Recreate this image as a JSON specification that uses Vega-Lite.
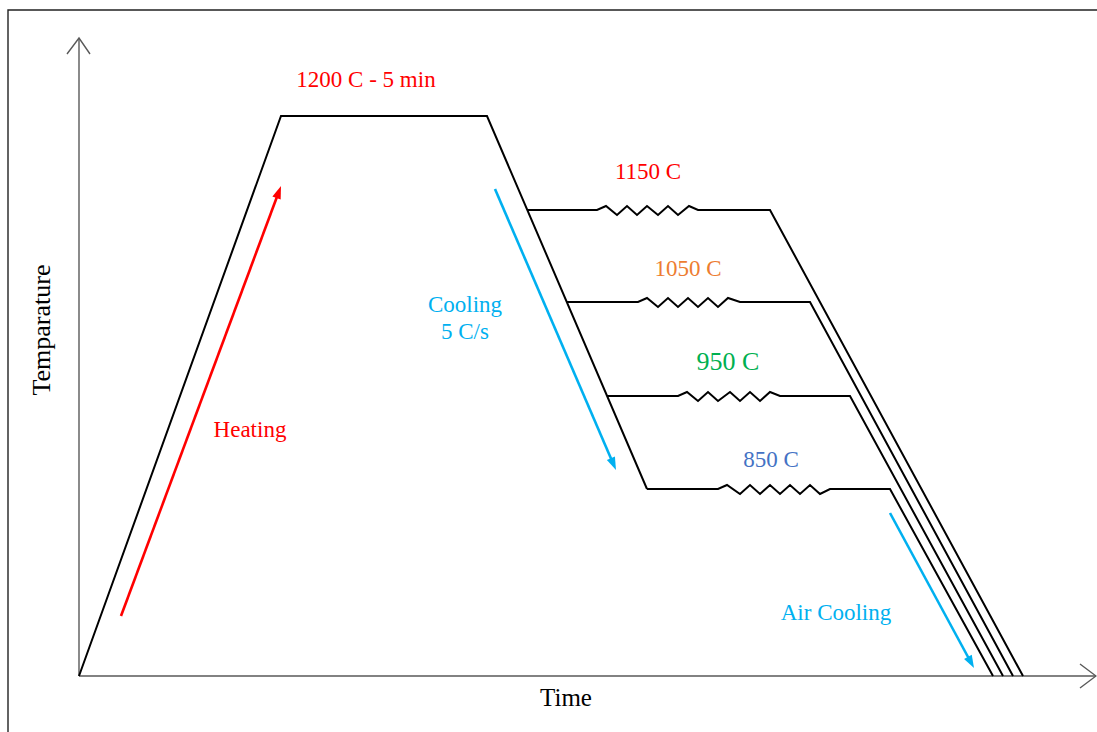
{
  "$schema": "https://vega.github.io/schema/vega-lite/v6.json",
  "autosize": {"type": "none"},
  "width": 1097,
  "height": 732,
  "padding": 0,
  "background": "white",
  "config": {"view": {"stroke": null}},
  "datasets": {
    "paths": [
      {"path": "frame", "key": "frame", "seq": 1, "t": 1018, "T": 666},
      {"path": "frame", "key": "frame", "seq": 2, "t": -71, "T": 666},
      {"path": "frame", "key": "frame", "seq": 3, "t": -71, "T": -56},
      {"path": "yaxis", "key": "axis", "seq": 1, "t": 0, "T": 0},
      {"path": "yaxis", "key": "axis", "seq": 2, "t": 0, "T": 638},
      {"path": "yhead", "key": "axis", "seq": 1, "t": -12, "T": 622},
      {"path": "yhead", "key": "axis", "seq": 2, "t": 0, "T": 638},
      {"path": "yhead", "key": "axis", "seq": 3, "t": 11, "T": 622},
      {"path": "xaxis", "key": "axis", "seq": 1, "t": 0, "T": 0},
      {"path": "xaxis", "key": "axis", "seq": 2, "t": 1017, "T": 0},
      {"path": "xhead", "key": "axis", "seq": 1, "t": 1001, "T": 12},
      {"path": "xhead", "key": "axis", "seq": 2, "t": 1017, "T": 0},
      {"path": "xhead", "key": "axis", "seq": 3, "t": 1001, "T": -12},
      {"path": "main", "key": "profile", "seq": 1, "t": 0, "T": 0},
      {"path": "main", "key": "profile", "seq": 2, "t": 202, "T": 560},
      {"path": "main", "key": "profile", "seq": 3, "t": 408, "T": 560},
      {"path": "main", "key": "profile", "seq": 4, "t": 568, "T": 187},
      {"path": "p1150", "key": "profile", "seq": 1, "t": 448, "T": 466},
      {"path": "p1150", "key": "profile", "seq": 2, "t": 518, "T": 466},
      {"path": "p1150", "key": "profile", "seq": 3, "t": 527, "T": 470},
      {"path": "p1150", "key": "profile", "seq": 4, "t": 538, "T": 461},
      {"path": "p1150", "key": "profile", "seq": 5, "t": 548, "T": 470},
      {"path": "p1150", "key": "profile", "seq": 6, "t": 558, "T": 461},
      {"path": "p1150", "key": "profile", "seq": 7, "t": 568, "T": 470},
      {"path": "p1150", "key": "profile", "seq": 8, "t": 579, "T": 461},
      {"path": "p1150", "key": "profile", "seq": 9, "t": 589, "T": 470},
      {"path": "p1150", "key": "profile", "seq": 10, "t": 599, "T": 461},
      {"path": "p1150", "key": "profile", "seq": 11, "t": 610, "T": 470},
      {"path": "p1150", "key": "profile", "seq": 12, "t": 619, "T": 466},
      {"path": "p1150", "key": "profile", "seq": 13, "t": 691, "T": 466},
      {"path": "p1150", "key": "profile", "seq": 14, "t": 944, "T": 0},
      {"path": "p1050", "key": "profile", "seq": 1, "t": 488, "T": 374},
      {"path": "p1050", "key": "profile", "seq": 2, "t": 559, "T": 374},
      {"path": "p1050", "key": "profile", "seq": 3, "t": 568, "T": 378},
      {"path": "p1050", "key": "profile", "seq": 4, "t": 579, "T": 369},
      {"path": "p1050", "key": "profile", "seq": 5, "t": 589, "T": 378},
      {"path": "p1050", "key": "profile", "seq": 6, "t": 599, "T": 369},
      {"path": "p1050", "key": "profile", "seq": 7, "t": 609, "T": 378},
      {"path": "p1050", "key": "profile", "seq": 8, "t": 619, "T": 369},
      {"path": "p1050", "key": "profile", "seq": 9, "t": 629, "T": 378},
      {"path": "p1050", "key": "profile", "seq": 10, "t": 639, "T": 369},
      {"path": "p1050", "key": "profile", "seq": 11, "t": 649, "T": 378},
      {"path": "p1050", "key": "profile", "seq": 12, "t": 661, "T": 374},
      {"path": "p1050", "key": "profile", "seq": 13, "t": 731, "T": 374},
      {"path": "p1050", "key": "profile", "seq": 14, "t": 934, "T": 0},
      {"path": "p950", "key": "profile", "seq": 1, "t": 528, "T": 280},
      {"path": "p950", "key": "profile", "seq": 2, "t": 599, "T": 280},
      {"path": "p950", "key": "profile", "seq": 3, "t": 608, "T": 284},
      {"path": "p950", "key": "profile", "seq": 4, "t": 619, "T": 275},
      {"path": "p950", "key": "profile", "seq": 5, "t": 629, "T": 284},
      {"path": "p950", "key": "profile", "seq": 6, "t": 639, "T": 275},
      {"path": "p950", "key": "profile", "seq": 7, "t": 651, "T": 284},
      {"path": "p950", "key": "profile", "seq": 8, "t": 661, "T": 275},
      {"path": "p950", "key": "profile", "seq": 9, "t": 671, "T": 284},
      {"path": "p950", "key": "profile", "seq": 10, "t": 681, "T": 275},
      {"path": "p950", "key": "profile", "seq": 11, "t": 691, "T": 284},
      {"path": "p950", "key": "profile", "seq": 12, "t": 701, "T": 280},
      {"path": "p950", "key": "profile", "seq": 13, "t": 771, "T": 280},
      {"path": "p950", "key": "profile", "seq": 14, "t": 924, "T": 0},
      {"path": "p850", "key": "profile", "seq": 1, "t": 568, "T": 187},
      {"path": "p850", "key": "profile", "seq": 2, "t": 639, "T": 187},
      {"path": "p850", "key": "profile", "seq": 3, "t": 648, "T": 191},
      {"path": "p850", "key": "profile", "seq": 4, "t": 661, "T": 182},
      {"path": "p850", "key": "profile", "seq": 5, "t": 671, "T": 191},
      {"path": "p850", "key": "profile", "seq": 6, "t": 681, "T": 182},
      {"path": "p850", "key": "profile", "seq": 7, "t": 691, "T": 191},
      {"path": "p850", "key": "profile", "seq": 8, "t": 701, "T": 182},
      {"path": "p850", "key": "profile", "seq": 9, "t": 711, "T": 191},
      {"path": "p850", "key": "profile", "seq": 10, "t": 721, "T": 182},
      {"path": "p850", "key": "profile", "seq": 11, "t": 731, "T": 191},
      {"path": "p850", "key": "profile", "seq": 12, "t": 741, "T": 182},
      {"path": "p850", "key": "profile", "seq": 13, "t": 751, "T": 187},
      {"path": "p850", "key": "profile", "seq": 14, "t": 811, "T": 187},
      {"path": "p850", "key": "profile", "seq": 15, "t": 914, "T": 0}
    ],
    "arrows": [
      {"key": "Heating", "t": 42, "T": 60, "t2": 199.2, "T2": 482.5},
      {"key": "Cooling", "t": 416, "T": 487, "t2": 533.8, "T2": 213.3},
      {"key": "Air Cooling", "t": 811, "T": 163, "t2": 891.2, "T2": 15}
    ],
    "labels": [
      {"text": "1200 C - 5 min", "key": "1200", "t": 287, "T": 589},
      {"text": "1150 C", "key": "1150", "t": 569, "T": 497},
      {"text": "1050 C", "key": "1050", "t": 609, "T": 400},
      {"text": "950 C", "key": "950", "t": 649, "T": 306},
      {"text": "850 C", "key": "850", "t": 692, "T": 209},
      {"text": "Cooling", "key": "Cooling", "t": 386, "T": 364},
      {"text": "5 C/s", "key": "Cooling", "t": 386, "T": 337},
      {"text": "Heating", "key": "Heating", "t": 171, "T": 239},
      {"text": "Air Cooling", "key": "Air Cooling", "t": 757, "T": 56},
      {"text": "Time", "key": "title", "t": 487, "T": -30},
      {"text": "Temparature", "key": "title", "t": -29, "T": 346}
    ]
  },
  "encoding": {
    "x": {"field": "t", "type": "quantitative", "scale": {"domain": [-79, 1018], "nice": false, "zero": false}, "axis": null},
    "y": {"field": "T", "type": "quantitative", "scale": {"domain": [-56, 676], "nice": false, "zero": false}, "axis": null},
    "color": {
      "field": "key", "type": "nominal", "legend": null,
      "scale": {
        "domain": ["profile", "axis", "frame", "1200", "1150", "1050", "950", "850", "Heating", "Cooling", "Air Cooling", "title"],
        "range": ["#000000", "#595959", "#222222", "#FF0000", "#FF0000", "#ED7D31", "#00B050", "#4472C4", "#FF0000", "#00B0F0", "#00B0F0", "#000000"]
      }
    }
  },
  "layer": [
    {
      "data": {"name": "paths"},
      "transform": [{"filter": "datum.key !== 'profile'"}],
      "mark": {"type": "line", "strokeWidth": 1.4},
      "encoding": {"detail": {"field": "path"}, "order": {"field": "seq", "type": "quantitative"}}
    },
    {
      "data": {"name": "paths"},
      "transform": [{"filter": "datum.key === 'profile'"}],
      "mark": {"type": "line", "strokeWidth": 2},
      "encoding": {"detail": {"field": "path"}, "order": {"field": "seq", "type": "quantitative"}}
    },
    {
      "data": {"name": "arrows"},
      "mark": {"type": "rule", "strokeWidth": 2.6},
      "encoding": {
        "x2": {"field": "t2"},
        "y2": {"field": "T2"}
      }
    },
    {
      "data": {"name": "arrows"},
      "transform": [{"filter": "datum.key === 'Heating'"}],
      "mark": {"type": "point", "shape": "M0,-1L0.55,0.6L-0.55,0.6Z", "filled": true, "opacity": 1, "size": 256, "angle": 20.4},
      "encoding": {
        "x": {"field": "t2", "type": "quantitative"},
        "y": {"field": "T2", "type": "quantitative"}
      }
    },
    {
      "data": {"name": "arrows"},
      "transform": [{"filter": "datum.key === 'Cooling'"}],
      "mark": {"type": "point", "shape": "M0,-1L0.55,0.6L-0.55,0.6Z", "filled": true, "opacity": 1, "size": 256, "angle": 156.6},
      "encoding": {
        "x": {"field": "t2", "type": "quantitative"},
        "y": {"field": "T2", "type": "quantitative"}
      }
    },
    {
      "data": {"name": "arrows"},
      "transform": [{"filter": "datum.key === 'Air Cooling'"}],
      "mark": {"type": "point", "shape": "M0,-1L0.55,0.6L-0.55,0.6Z", "filled": true, "opacity": 1, "size": 256, "angle": 151.5},
      "encoding": {
        "x": {"field": "t2", "type": "quantitative"},
        "y": {"field": "T2", "type": "quantitative"}
      }
    },
    {
      "data": {"name": "labels"},
      "transform": [{"filter": "datum.key !== 'title' && datum.key !== '950'"}],
      "mark": {"type": "text", "font": "Liberation Serif", "fontSize": 23, "align": "center", "baseline": "alphabetic"},
      "encoding": {"text": {"field": "text"}}
    },
    {
      "data": {"name": "labels"},
      "transform": [{"filter": "datum.key === '950'"}],
      "mark": {"type": "text", "font": "Liberation Serif", "fontSize": 26, "align": "center", "baseline": "alphabetic"},
      "encoding": {"text": {"field": "text"}}
    },
    {
      "data": {"name": "labels"},
      "transform": [{"filter": "datum.text === 'Time'"}],
      "mark": {"type": "text", "font": "Liberation Serif", "fontSize": 25, "align": "center", "baseline": "alphabetic"},
      "encoding": {"text": {"field": "text"}}
    },
    {
      "data": {"name": "labels"},
      "transform": [{"filter": "datum.text === 'Temparature'"}],
      "mark": {"type": "text", "font": "Liberation Serif", "fontSize": 26, "align": "center", "baseline": "alphabetic", "angle": 270},
      "encoding": {"text": {"field": "text"}}
    }
  ]
}
